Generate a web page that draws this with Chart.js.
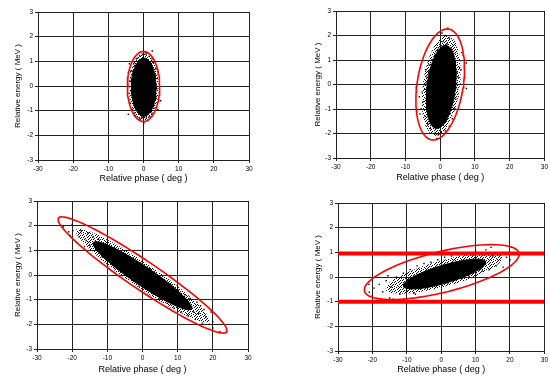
<!DOCTYPE html>
<html>
<head>
<meta charset="utf-8">
<script src="https://cdn.jsdelivr.net/npm/chart.js@4/dist/chart.umd.min.js"></script>
<style>
  html, body { margin: 0; padding: 0; background: #fff; }
  .panel { position: absolute; width: 275px; height: 188px; }
</style>
</head>
<body>
<div class="panel" style="left:0;top:0"><canvas id="c1" width="275" height="188"></canvas></div>
<div class="panel" style="left:275px;top:0"><canvas id="c2" width="275" height="188"></canvas></div>
<div class="panel" style="left:0;top:188px"><canvas id="c3" width="275" height="188"></canvas></div>
<div class="panel" style="left:275px;top:188px"><canvas id="c4" width="275" height="188"></canvas></div>
<script>
const X_TICKS = [-30, -20, -10, 0, 10, 20, 30]
const Y_TICKS = [-3, -2, -1, 0, 1, 2, 3]
const X_TITLE = 'Relative phase ( deg )'
const Y_TITLE = 'Relative energy ( MeV )'

// ellipses: [centre phase, centre energy, phase half-width, energy at max phase, energy half-height at centre]
const FIT_A = [0, -0.02, 4.6, 0, 1.42]
const FRINGE_A = [0.1, -0.03, 4.2, 0, 1.36]
const CORE_A = [0.1, -0.05, 3.5, 0, 1.18]
const HALO_A = [
  [-3.6, 0.6], [-3.9, 0.2], [-4.1, -0.3], [-3.7, -0.7], [-3.2, -0.95], [-2.6, -1.1], [-1.8, -1.25],
  [-0.9, -1.35], [0.1, -1.5], [0.8, -1.3], [1.6, -1.25], [2.4, -1.1], [3.0, -0.9], [3.6, -0.5],
  [3.8, -0.1], [3.9, 0.3], [3.5, 0.7], [3.0, 0.95], [2.4, 1.1], [1.6, 1.2], [0.7, 1.3], [-0.2, 1.28],
  [-1.1, 1.22], [-2.0, 1.1], [-2.8, 0.9], [2.5, 1.42], [-4.3, -1.15], [4.9, -0.6], [4.1, -0.95],
  [-4.5, 0.05], [-3.4, 0.3], [3.4, 0.2], [-3.5, -0.2], [3.5, -0.3], [2.8, -0.75], [-2.9, 0.6],
  [1.2, -1.4], [-1.5, 1.15], [2.0, 1.25], [-2.3, -1.2], [0.5, 1.38], [-0.5, -1.3], [4.0, 0.6],
  [-4.0, 0.9], [1.0, 1.35], [-1.2, -1.3],
]

const FIT_B = [0, 0, 7.0, 0.65, 2.17]
const FRINGE_B = [0.3, -0.05, 5.6, 0.6, 1.95]
const CORE_B = [0.3, -0.1, 4.3, 0.5, 1.62]
const HALO_B = [
  [1.5, 2.0], [2.6, 1.9], [0.8, 1.75], [2.0, 1.65], [3.2, 1.5], [-0.5, 1.5], [1.0, 1.55], [3.8, 1.2],
  [4.4, 0.9], [-1.5, 1.2], [-2.5, 0.8], [4.8, 0.5], [5.2, 0.3], [-3.8, 0.3], [-4.6, 0.0], [5.0, -0.2],
  [4.5, -0.6], [-5.2, -0.3], [-4.9, -0.7], [-5.5, -1.0], [4.2, -1.0], [3.5, -1.4], [-4.3, -1.3],
  [-3.6, -1.6], [2.6, -1.7], [-2.8, -1.8], [1.5, -1.9], [-1.6, -2.0], [-0.5, -2.05], [0.3, -1.95],
  [-1.0, -2.2], [7.5, 0.88], [7.55, -0.16], [6.0, 0.6], [-6.0, -0.5], [-3.2, 0.8], [-4.2, 0.6],
  [3.0, 1.3], [-0.8, 1.4], [5.6, 0.7], [0.5, 2.1], [2.2, 2.3], [-2.0, -1.5], [1.8, -1.5], [4.0, -0.3],
  [-4.5, -0.2], [3.6, 0.8], [-3.5, -0.9], [2.8, -1.2], [-2.4, 1.0], [-5.8, -1.2], [6.2, 1.3],
  [-1.2, -1.7], [0.9, -1.6], [-6.8, -0.3],
]

const FIT_C = [0, 0, 24, -2.25, 0.7]
const FRINGE_C = [0, -0.02, 19, -1.8, 0.6]
const CORE_C = [0, -0.03, 14, -1.3, 0.46]
const HALO_C = [
  [-22.5, 1.95], [-20, 2.05], [-19.8, 1.8], [-20.5, 1.6], [-17.5, 1.8], [-18, 1.55], [-16, 1.4],
  [-15.5, 1.7], [-15, 1.2], [-14, 1.55], [-13, 1.0], [-12.5, 1.45], [-11.5, 0.75], [-16.5, 1.15],
  [-10, 1.3], [-9, 0.55], [-8, 1.1], [-7, 0.35], [-6, 0.9], [-5, 0.05], [-4, 0.75], [-3, -0.2],
  [-2, 0.55], [-1, -0.45], [0, 0.4], [1, -0.55], [2, 0.25], [3, -0.75], [4, 0.0], [5, -0.95],
  [6, -0.2], [7, -1.15], [8, -0.4], [9, -1.35], [10, -0.6], [11, -1.5], [12, -0.8], [13, -1.65],
  [13.5, -0.95], [14, -1.3], [15, -1.8], [15.5, -1.1], [16, -1.55], [17, -1.95], [17.5, -1.4],
  [18, -1.7], [19, -2.0], [19.5, -1.5], [20, -1.9], [20, -2.15], [22, -2.3], [-21, 1.75],
  [-18.5, 1.3], [-11, 1.2], [-9.5, 0.85], [11.5, -1.0], [14.5, -1.5], [16.5, -1.25],
]

const FIT_D = [0.15, 0.2, 22.5, 0.72, 0.85]
const FRINGE_D = [0.8, 0.15, 17, 0.62, 0.55]
const CORE_D = [1.0, 0.12, 12, 0.47, 0.38]
const HALO_D = [
  [-20, -0.75], [-19.5, -0.45], [-18, -0.3], [-17, -0.6], [-16, -0.15], [-15, -0.85], [-14.5, -0.4],
  [-13, 0.0], [-12, -0.7], [-11, 0.15], [-10, -0.55], [-9, 0.3], [-8, -0.65], [-7, 0.45], [-6, -0.5],
  [-5, 0.55], [-4, -0.45], [-3, 0.6], [-2, -0.35], [-1, 0.7], [0, -0.3], [1, 0.8], [2, -0.25],
  [3, 0.85], [4, -0.1], [5, 0.9], [6, -0.05], [7, 0.95], [8, 0.05], [9, 0.9], [10, 0.15], [11, 0.95],
  [12, 0.25], [13, 1.1], [14, 0.3], [15, 0.85], [16, 0.45], [17, 0.9], [18, 0.4], [19, 0.8],
  [20, 0.7], [14.5, 1.2], [-21, -0.3], [-14, -0.9], [-7.5, -0.7], [10, 1.05], [-15.5, 0.05],
  [-20.9, -0.62],
]
// energy acceptance limits (bottom-right panel)
const CUTS_D = [0.95, -1.0]

const RED = '#ff0000'
const GRID = '#222'
const FAMILY = '"Liberation Sans", Arial, sans-serif'

// irregular speckle fill used for the dense fringe of each cloud
function speckle() {
  const tile = document.createElement('canvas')
  tile.width = 9; tile.height = 9
  const g = tile.getContext('2d')
  g.fillStyle = '#000'
  const rows = [[0, 4, 7], [2, 6], [1, 5, 8], [3, 7], [0, 2, 6], [4, 8], [1, 3, 7], [0, 5], [2, 6, 8]]
  rows.forEach((xs, y) => xs.forEach(x => g.fillRect(x, y, 1, 1)))
  return g.createPattern(tile, 'repeat')
}

function ellipse([cx, cy, a, m, n]) {
  const pts = []
  for (let k = 0; k <= 72; k++) {
    const t = k * Math.PI / 36
    pts.push({ x: cx + a * Math.cos(t), y: cy + m * Math.cos(t) + n * Math.sin(t) })
  }
  return pts
}

function panel(id, box, fit, fringe, core, halo, cuts) {
  // first dataset is painted last (on top)
  const datasets = [
    {
      data: ellipse(fit), showLine: true, borderColor: RED, borderWidth: 1.6,
      pointRadius: 0, fill: false, tension: 0,
    },
    {
      data: halo.map(([x, y]) => ({ x, y })), pointStyle: 'rect', pointRadius: 1,
      backgroundColor: '#000', borderWidth: 0,
    },
    {
      data: ellipse(core), showLine: true, borderColor: '#000', borderWidth: 1,
      backgroundColor: '#000', pointRadius: 0, fill: 'shape', tension: 0,
    },
    {
      data: ellipse(fringe), showLine: true, borderWidth: 0, borderColor: 'rgba(0,0,0,0)',
      backgroundColor: speckle(), pointRadius: 0, fill: 'shape', tension: 0,
    },
  ]
  ;(cuts || []).forEach(v => {
    datasets.unshift({
      data: [{ x: -30, y: v }, { x: 30, y: v }], showLine: true, borderColor: RED,
      borderWidth: 4, pointRadius: 0, fill: false,
    })
  })

  new Chart(document.getElementById(id), {
    type: 'scatter',
    data: { datasets },
    options: {
      responsive: false,
      devicePixelRatio: 1,
      animation: false,
      events: [],
      layout: { autoPadding: false, padding: { left: 0, top: box.top, right: box.right, bottom: 0 } },
      plugins: { legend: { display: false }, tooltip: { enabled: false } },
      scales: {
        x: {
          type: 'linear', min: -30, max: 30,
          afterBuildTicks: s => { s.ticks = X_TICKS.map(v => ({ value: v })) },
          afterFit: s => { s.height = box.xh },
          ticks: { color: '#000', padding: 2, maxRotation: 0, font: { family: FAMILY, size: 6.5 } },
          grid: { color: GRID, lineWidth: 1, tickLength: 3 },
          border: { color: GRID },
          title: {
            display: true, text: X_TITLE, color: '#000',
            font: { family: FAMILY, size: 9 }, padding: { top: 0, bottom: box.xt },
          },
        },
        y: {
          type: 'linear', min: -3, max: 3,
          afterBuildTicks: s => { s.ticks = Y_TICKS.map(v => ({ value: v })) },
          afterFit: s => { s.width = box.yw },
          ticks: { color: '#000', padding: 2, font: { family: FAMILY, size: 6.5 } },
          grid: { color: GRID, lineWidth: 1, tickLength: 3 },
          border: { color: GRID },
          title: {
            display: true, text: Y_TITLE, color: '#000',
            font: { family: FAMILY, size: 8 }, padding: { top: box.yt, bottom: 0 },
          },
        },
      },
    },
  })
}

panel('c1', { top: 12, right: 26, xh: 28, yw: 38, xt: 3.6, yt: 13.2 }, FIT_A, FRINGE_A, CORE_A, HALO_A)
panel('c2', { top: 11, right: 2.3, xh: 30, yw: 61, xt: 4.6, yt: 37.9 }, FIT_B, FRINGE_B, CORE_B, HALO_B)
panel('c3', { top: 13, right: 27, xh: 27, yw: 37, xt: 0.9, yt: 13.2 }, FIT_C, FRINGE_C, CORE_C, HALO_C)
panel('c4', { top: 15, right: 2, xh: 25, yw: 63, xt: 0.9, yt: 37.9 }, FIT_D, FRINGE_D, CORE_D, HALO_D, CUTS_D)
</script>
</body>
</html>
